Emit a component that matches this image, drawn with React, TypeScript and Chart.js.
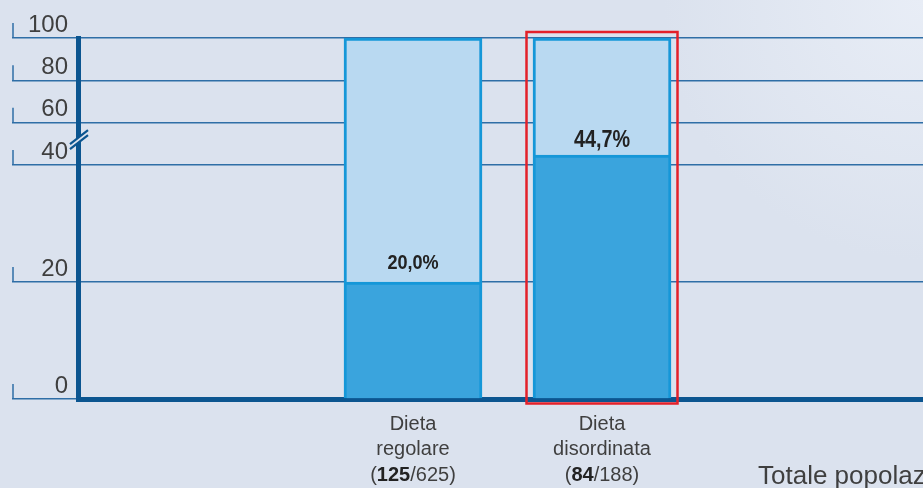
import React, { useEffect, useRef } from 'react';
import { Chart, registerables, LinearScale } from 'chart.js';

Chart.register(...registerables);

// ---------- data ----------
const categories: string[][] = [
  ['Dieta', 'regolare'],
  ['Dieta', 'disordinata'],
];
const positiveCounts = [125, 84];
const groupTotals = [625, 188];
const shareValues = [20.0, 44.7]; // dark segment (%)
const remainderValues = [80.0, 55.3]; // light segment (%)
const yTickValues = [0, 20, 40, 60, 80, 100];
const highlightIndex = 1;
const sideLabel = 'Totale popolazione';

// ---------- styles ----------
const FAMILY = "'Liberation Sans', Arial, Helvetica, sans-serif";
const BG = '#dbe2ee';
const GRID = '#2f6ea6';
const AXIS = '#0b5590';
const DARK = '#3aa4dd';
const LIGHT = '#b9d9f1';
const BAR_BORDER = '#1597d8';
const TEXT = '#3f3f3f';
const RED = '#e3202a';

// ---------- broken (piecewise) linear scale ----------
const AXIS_BREAK = 40;
const COMPRESSION = 0.362;
const toUnits = (v: number) => (v <= AXIS_BREAK ? v : AXIS_BREAK + (v - AXIS_BREAK) * COMPRESSION);
const fromUnits = (u: number) => (u <= AXIS_BREAK ? u : AXIS_BREAK + (u - AXIS_BREAK) / COMPRESSION);

class BrokenLinearScale extends LinearScale {
  static id = 'brokenLinear';
  static defaults = LinearScale.defaults;
  getPixelForValue(value: number) {
    if (value === null || value === undefined || isNaN(value)) return NaN;
    const a = toUnits(this.min);
    const b = toUnits(this.max);
    return this.getPixelForDecimal((toUnits(value) - a) / (b - a));
  }
  getValueForPixel(pixel: number) {
    const a = toUnits(this.min);
    const b = toUnits(this.max);
    return fromUnits(a + this.getDecimalForPixel(pixel) * (b - a));
  }
}
Chart.register(BrokenLinearScale);

const X_FONT_SIZE = 20;
const X_LINE_HEIGHT = 1.26;
const X_PADDING = 13;

function drawCondensed(ctx: CanvasRenderingContext2D, text: string, cx: number, baseline: number, size: number) {
  ctx.save();
  ctx.font = `bold ${size}px ${FAMILY}`;
  ctx.fillStyle = '#222222';
  ctx.textAlign = 'center';
  ctx.textBaseline = 'alphabetic';
  ctx.translate(cx, baseline);
  ctx.scale(0.86, 1);
  ctx.fillText(text, 0, 0);
  ctx.restore();
}

const decorations = {
  id: 'decorations',
  afterDraw(chart: any) {
    const { ctx, chartArea, scales } = chart;
    const y = scales.y;
    const x = scales.x;
    ctx.save();

    // small vertical ticks at the left end of every grid line
    ctx.strokeStyle = GRID;
    ctx.lineWidth = 1.5;
    y.ticks.forEach((t: any) => {
      const py = y.getPixelForValue(t.value);
      ctx.beginPath();
      ctx.moveTo(y.left + 1, py);
      ctx.lineTo(y.left + 1, py - 15);
      ctx.stroke();
    });

    // axis break mark
    const bx = chartArea.left + 1;
    const by = y.getPixelForValue(AXIS_BREAK) - 25;
    ctx.save();
    ctx.translate(bx, by);
    ctx.fillStyle = BG;
    ctx.beginPath();
    ctx.moveTo(-9, 4);
    ctx.lineTo(9, -10);
    ctx.lineTo(9, -5);
    ctx.lineTo(-9, 9);
    ctx.closePath();
    ctx.fill();
    ctx.strokeStyle = AXIS;
    ctx.lineWidth = 2.2;
    ctx.beginPath();
    ctx.moveTo(-9, 4);
    ctx.lineTo(9, -10);
    ctx.moveTo(-9, 9);
    ctx.lineTo(9, -5);
    ctx.stroke();
    ctx.restore();

    // percentage labels
    const darkMeta = chart.getDatasetMeta(0);
    const lightMeta = chart.getDatasetMeta(1);
    darkMeta.data.forEach((bar: any, i: number) => {
      const txt = shareValues[i].toFixed(1).replace('.', ',') + '%';
      const big = i === highlightIndex;
      drawCondensed(ctx, txt, bar.x, bar.y - (big ? 8 : 13), big ? 23 : 21);
    });

    // third line of category labels: (bold count / total)
    const lh = X_FONT_SIZE * X_LINE_HEIGHT;
    const midY = x.top + X_PADDING + lh * 2.5;
    categories.forEach((_, i) => {
      const cx = x.getPixelForValue(i + 1);
      const parts = [
        { t: '(', bold: false },
        { t: String(positiveCounts[i]), bold: true },
        { t: '/' + groupTotals[i] + ')', bold: false },
      ];
      let total = 0;
      parts.forEach((p) => {
        ctx.font = `${p.bold ? 'bold ' : ''}${X_FONT_SIZE}px ${FAMILY}`;
        total += ctx.measureText(p.t).width;
      });
      let px = cx - total / 2;
      ctx.textAlign = 'left';
      ctx.textBaseline = 'middle';
      parts.forEach((p) => {
        ctx.font = `${p.bold ? 'bold ' : ''}${X_FONT_SIZE}px ${FAMILY}`;
        ctx.fillStyle = p.bold ? '#222222' : TEXT;
        ctx.fillText(p.t, px, midY);
        px += ctx.measureText(p.t).width;
      });
    });

    // highlight frame around one bar
    const hb = darkMeta.data[highlightIndex];
    const ht = lightMeta.data[highlightIndex];
    if (hb && ht) {
      const half = hb.width / 2;
      ctx.strokeStyle = RED;
      ctx.lineWidth = 2.5;
      ctx.strokeRect(hb.x - half - 6.5, ht.y - 6, hb.width + 13, chartArea.bottom + 4.5 - (ht.y - 6));
    }

    // side label (partly outside the canvas)
    ctx.font = `26px ${FAMILY}`;
    ctx.fillStyle = TEXT;
    ctx.textAlign = 'left';
    ctx.textBaseline = 'alphabetic';
    ctx.fillText(sideLabel, 758, 484);

    ctx.restore();
  },
};

export default function App() {
  const ref = useRef<HTMLCanvasElement | null>(null);

  useEffect(() => {
    if (!ref.current) return;
    const chart = new Chart(ref.current, {
      type: 'bar',
      data: {
        datasets: [
          {
            label: 'quota',
            data: shareValues.map((v, i) => ({ x: i + 1, y: v })),
            backgroundColor: DARK,
            borderColor: BAR_BORDER,
            borderWidth: 3,
            barThickness: 138,
          },
          {
            label: 'resto',
            data: remainderValues.map((v, i) => ({ x: i + 1, y: v })),
            backgroundColor: LIGHT,
            borderColor: BAR_BORDER,
            borderWidth: 3,
            barThickness: 138,
          },
        ],
      },
      options: {
        animation: false,
        responsive: true,
        maintainAspectRatio: false,
        layout: { padding: { left: 12, top: 38, right: 0, bottom: 0 } },
        plugins: { legend: { display: false }, tooltip: { enabled: false } },
        scales: {
          x: {
            type: 'linear',
            min: -0.7725,
            max: 3.6984,
            stacked: true,
            offset: false,
            z: 1,
            grid: { display: false, drawTicks: false },
            border: { display: true, color: AXIS, width: 5 },
            ticks: {
              autoSkip: false,
              maxRotation: 0,
              minRotation: 0,
              padding: X_PADDING,
              color: TEXT,
              font: { family: FAMILY, size: X_FONT_SIZE, lineHeight: X_LINE_HEIGHT },
              callback: (v: any) => categories[Number(v) - 1] ?? '',
            },
            afterBuildTicks: (s: any) => {
              s.ticks = categories.map((_, i) => ({ value: i + 1 }));
            },
            afterFit: (s: any) => {
              s.height = 89;
            },
          } as any,
          y: {
            type: 'brokenLinear',
            min: 0,
            max: 100,
            stacked: true,
            grid: {
              color: GRID,
              lineWidth: 1.5,
              drawTicks: true,
              tickLength: 66,
              tickColor: GRID,
              tickWidth: 1.5,
            },
            border: { display: true, color: AXIS, width: 5 },
            ticks: {
              padding: -56,
              labelOffset: -13,
              color: TEXT,
              font: { family: FAMILY, size: 24 },
              callback: (v: any) => String(v),
            },
            afterBuildTicks: (s: any) => {
              s.ticks = yTickValues.map((v) => ({ value: v }));
            },
            afterFit: (s: any) => {
              s.width = 66;
            },
          } as any,
        },
      },
      plugins: [decorations],
    });
    return () => chart.destroy();
  }, []);

  return (
    <div
      style={{
        position: 'absolute',
        left: 0,
        top: 0,
        width: 923,
        height: 488,
        background: `radial-gradient(circle at 100% 0%, #e8edf6 0px, ${BG} 260px)`,
      }}
    >
      <canvas ref={ref} />
    </div>
  );
}
